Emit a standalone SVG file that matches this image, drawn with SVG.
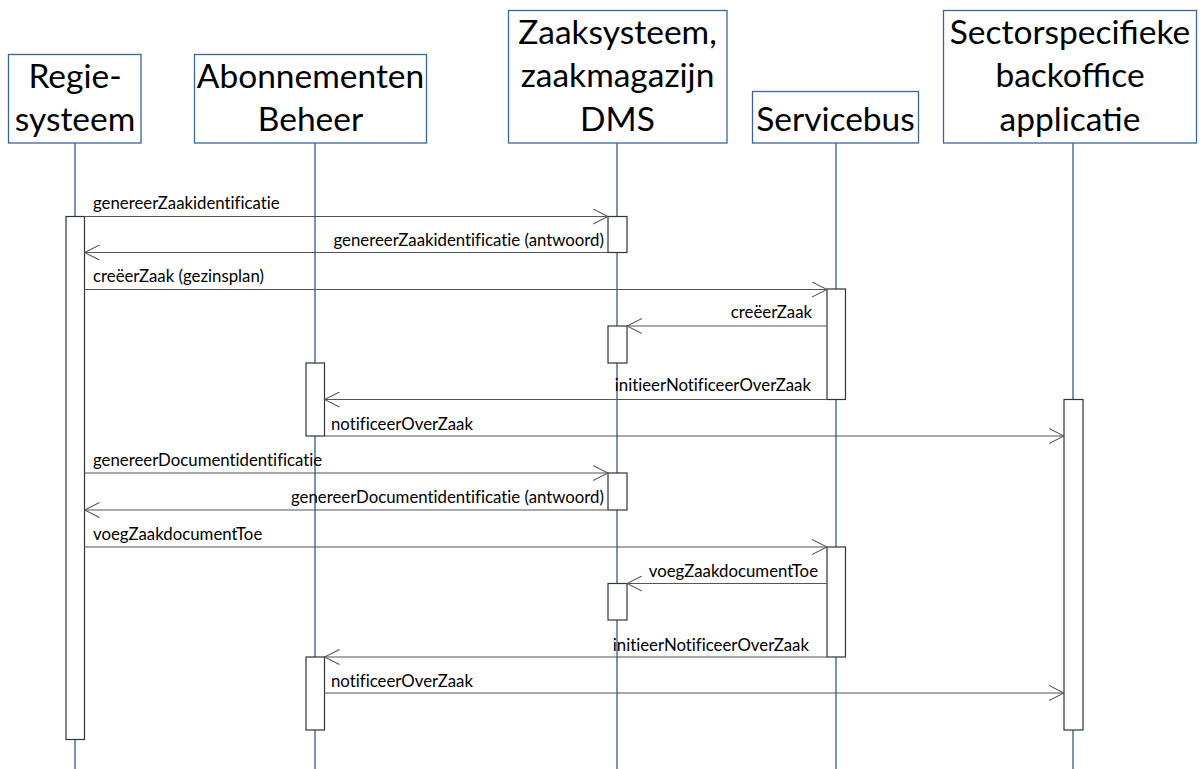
<svg xmlns="http://www.w3.org/2000/svg" width="1200" height="769" viewBox="0 0 1200 769">
<defs>
<style>
.hdr{fill:#fff;stroke:#3C649C;stroke-width:1.3}
.ht{font-family:Lato,"Liberation Sans",sans-serif;font-size:33.5px;fill:#000;text-anchor:middle}
.life{stroke:#33598F;stroke-width:1.3;fill:none}
.act{fill:#fff;stroke:#333;stroke-width:1.2}
.msg{stroke:#555;stroke-width:1.1;fill:none}
.mt{font-family:Lato,"Liberation Sans",sans-serif;font-size:16.8px;fill:#000;font-variant-ligatures:none}
.r{text-anchor:end}
</style>
<marker id="ah" viewBox="0 0 16 16" refX="15" refY="8" markerWidth="16" markerHeight="16" markerUnits="userSpaceOnUse" orient="auto">
<path d="M0,0.5 L15,8 L0,15.5" fill="none" stroke="#555" stroke-width="1.1"/>
</marker>
</defs>
<rect width="1200" height="769" fill="#fff"/>
<g id="lifelines">
<line class="life" x1="75" y1="143" x2="75" y2="769"/>
<line class="life" x1="315" y1="143" x2="315" y2="769"/>
<line class="life" x1="617" y1="143" x2="617" y2="769"/>
<line class="life" x1="836" y1="143" x2="836" y2="769"/>
<line class="life" x1="1073" y1="143" x2="1073" y2="769"/>
</g>
<g id="regiesysteem">
<rect class="hdr" x="8.5" y="54.5" width="132.5" height="88.5"/>
<text class="ht" x="75" y="88">Regie-</text>
<text class="ht" x="75" y="131">systeem</text>
<rect class="act" x="66" y="216.5" width="18.5" height="523"/>
</g>
<g id="abonnementen">
<rect class="hdr" x="194.5" y="54.5" width="232" height="88.5"/>
<text class="ht" x="310.5" y="88">Abonnementen</text>
<text class="ht" x="310.5" y="131">Beheer</text>
<rect class="act" x="306" y="363" width="18.5" height="73"/>
<rect class="act" x="306" y="657" width="18.5" height="73"/>
</g>
<g id="zaaksysteem">
<rect class="hdr" x="508.5" y="10.5" width="218.5" height="132.5"/>
<text class="ht" x="617.5" y="43.5">Zaaksysteem,</text>
<text class="ht" x="617.5" y="87">zaakmagazijn</text>
<text class="ht" x="617.5" y="130.5">DMS</text>
<rect class="act" x="608" y="216.5" width="19" height="36"/>
<rect class="act" x="608" y="326" width="19" height="37"/>
<rect class="act" x="608" y="473" width="19" height="37"/>
<rect class="act" x="608" y="583.5" width="19" height="36.5"/>
</g>
<g id="servicebus">
<rect class="hdr" x="752.5" y="91.5" width="166" height="51.5"/>
<text class="ht" x="835.5" y="130.5">Servicebus</text>
<rect class="act" x="827" y="289" width="18.5" height="110.5"/>
<rect class="act" x="827" y="547" width="18.5" height="110"/>
</g>
<g id="sectorspecifieke">
<rect class="hdr" x="943.5" y="10.5" width="253" height="132.5"/>
<text class="ht" x="1070" y="43.5">Sectorspecifieke</text>
<text class="ht" x="1070" y="87">backoffice</text>
<text class="ht" x="1070" y="130.5">applicatie</text>
<rect class="act" x="1064" y="399.5" width="19" height="330.5"/>
</g>
<g id="connectors">
<line class="msg" x1="84.5" y1="216.5" x2="608" y2="216.5" marker-end="url(#ah)"/>
<text class="mt" x="93" y="209">genereerZaakidentificatie</text>
<line class="msg" x1="608" y1="252.5" x2="84.5" y2="252.5" marker-end="url(#ah)"/>
<text class="mt r" x="604" y="246">genereerZaakidentificatie (antwoord)</text>
<line class="msg" x1="84.5" y1="289.5" x2="827" y2="289.5" marker-end="url(#ah)"/>
<text class="mt" x="93" y="282">creëerZaak (gezinsplan)</text>
<line class="msg" x1="827" y1="326" x2="627" y2="326" marker-end="url(#ah)"/>
<text class="mt r" x="812" y="318">creëerZaak</text>
<line class="msg" x1="827" y1="399.5" x2="324.5" y2="399.5" marker-end="url(#ah)"/>
<text class="mt r" x="811" y="391">initieerNotificeerOverZaak</text>
<line class="msg" x1="324.5" y1="436" x2="1064" y2="436" marker-end="url(#ah)"/>
<text class="mt" x="331" y="430">notificeerOverZaak</text>
<line class="msg" x1="84.5" y1="473" x2="608" y2="473" marker-end="url(#ah)"/>
<text class="mt" x="93" y="466">genereerDocumentidentificatie</text>
<line class="msg" x1="608" y1="510" x2="84.5" y2="510" marker-end="url(#ah)"/>
<text class="mt r" x="604" y="503">genereerDocumentidentificatie (antwoord)</text>
<line class="msg" x1="84.5" y1="547" x2="827" y2="547" marker-end="url(#ah)"/>
<text class="mt" x="93" y="540">voegZaakdocumentToe</text>
<line class="msg" x1="827" y1="583.5" x2="627" y2="583.5" marker-end="url(#ah)"/>
<text class="mt r" x="818" y="577">voegZaakdocumentToe</text>
<line class="msg" x1="827" y1="657" x2="324.5" y2="657" marker-end="url(#ah)"/>
<text class="mt r" x="809" y="651">initieerNotificeerOverZaak</text>
<line class="msg" x1="324.5" y1="693" x2="1064" y2="693" marker-end="url(#ah)"/>
<text class="mt" x="331" y="687">notificeerOverZaak</text>
</g>
</svg>
